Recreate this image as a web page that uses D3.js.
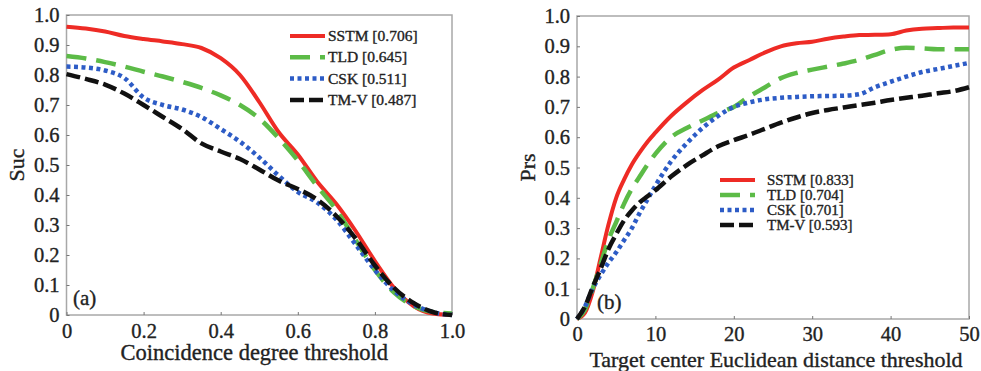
<!DOCTYPE html>
<html>
<head>
<meta charset="utf-8">
<script src="https://cdn.jsdelivr.net/npm/d3@7/dist/d3.min.js"></script>
<style>
  body { margin: 0; background: #fff; }
  svg text { font-family: "Liberation Serif", "DejaVu Serif", serif; fill: #222; stroke: #222; stroke-width: 0.35px; }
</style>
</head>
<body>
<svg id="chart" width="981" height="371"></svg>
<script>
// ---- panel (a): success plot ----
var sucX = [0, 0.05, 0.1, 0.15, 0.2, 0.25, 0.3, 0.35, 0.4, 0.45, 0.5, 0.55, 0.6, 0.65, 0.7, 0.75, 0.8, 0.85, 0.9, 0.95, 1.0];
var sucSSTM = [0.961, 0.955, 0.945, 0.93, 0.92, 0.912, 0.903, 0.89, 0.856, 0.80, 0.71, 0.61, 0.535, 0.445, 0.37, 0.28, 0.18, 0.09, 0.03, 0.005, 0.0];
var sucTLD  = [0.863, 0.855, 0.843, 0.828, 0.811, 0.795, 0.777, 0.757, 0.732, 0.70, 0.655, 0.59, 0.515, 0.43, 0.35, 0.25, 0.15, 0.075, 0.03, 0.01, 0.005];
var sucCSK  = [0.828, 0.825, 0.815, 0.79, 0.725, 0.70, 0.685, 0.66, 0.62, 0.578, 0.525, 0.465, 0.41, 0.375, 0.318, 0.235, 0.15, 0.08, 0.035, 0.01, 0.0];
var sucTMV  = [0.803, 0.787, 0.768, 0.738, 0.70, 0.66, 0.62, 0.572, 0.545, 0.52, 0.485, 0.448, 0.42, 0.385, 0.33, 0.255, 0.165, 0.09, 0.04, 0.01, 0.0];
var sucLegend = ['SSTM [0.706]', 'TLD [0.645]', 'CSK [0.511]', 'TM-V [0.487]'];
var sucXTicks = [0, 0.2, 0.4, 0.6, 0.8, 1.0];

// ---- panel (b): precision plot ----
var prsX = [0, 1, 2, 3, 4, 5, 6, 7, 8, 9, 10, 12, 14, 16, 18, 20, 22, 24, 26, 28, 30, 32, 34, 36, 38, 40, 42, 44, 46, 48, 50];
var prsSSTM = [0, 0.02, 0.09, 0.2, 0.31, 0.4, 0.46, 0.51, 0.55, 0.585, 0.615, 0.67, 0.715, 0.755, 0.79, 0.83, 0.855, 0.88, 0.9, 0.91, 0.915, 0.925, 0.932, 0.937, 0.938, 0.94, 0.952, 0.958, 0.96, 0.962, 0.962];
var prsTLD  = [0, 0.03, 0.1, 0.18, 0.26, 0.32, 0.38, 0.43, 0.47, 0.51, 0.545, 0.6, 0.63, 0.655, 0.68, 0.70, 0.735, 0.765, 0.795, 0.812, 0.823, 0.833, 0.843, 0.855, 0.872, 0.888, 0.895, 0.893, 0.89, 0.89, 0.89];
var prsCSK  = [0, 0.04, 0.1, 0.145, 0.185, 0.22, 0.26, 0.3, 0.35, 0.395, 0.44, 0.52, 0.58, 0.63, 0.67, 0.70, 0.715, 0.725, 0.73, 0.733, 0.735, 0.736, 0.737, 0.742, 0.765, 0.783, 0.80, 0.815, 0.825, 0.835, 0.845];
var prsTMV  = [0, 0.04, 0.105, 0.165, 0.23, 0.28, 0.325, 0.358, 0.385, 0.405, 0.425, 0.47, 0.508, 0.54, 0.57, 0.59, 0.608, 0.628, 0.648, 0.665, 0.68, 0.69, 0.698, 0.706, 0.714, 0.723, 0.73, 0.737, 0.745, 0.752, 0.765];
var prsLegend = ['SSTM [0.833]', 'TLD [0.704]', 'CSK [0.701]', 'TM-V [0.593]'];
var prsXTicks = [0, 10, 20, 30, 40, 50];

var yTicks = [0, 0.1, 0.2, 0.3, 0.4, 0.5, 0.6, 0.7, 0.8, 0.9, 1.0];

// line styles, in series order
var styles = [
  { color: '#ee2b25', width: 4, dash: null },
  { color: '#5cbb47', width: 4.5, dash: '20,10' },
  { color: '#2d5cc6', width: 4.5, dash: '4,3.5' },
  { color: '#111111', width: 4.5, dash: '14,5' }
];

var svg = d3.select('#chart');

function fmtY(d) { return d === 0 ? '0' : d.toFixed(1); }

function drawPanel(opt) {
  var x = d3.scaleLinear().domain(opt.xDomain).range([opt.left, opt.right]);
  var y = d3.scaleLinear().domain([0, 1]).range([opt.bottom, opt.top]);
  var g = svg.append('g');

  // frame
  g.append('rect')
    .attr('x', opt.left).attr('y', opt.top)
    .attr('width', opt.right - opt.left).attr('height', opt.bottom - opt.top)
    .attr('fill', 'none').attr('stroke', '#a8a8a8').attr('stroke-width', 1.5);

  // y axis
  var yAxis = g.append('g')
    .attr('transform', 'translate(' + opt.left + ',0)')
    .call(d3.axisLeft(y).tickValues(yTicks).tickFormat(fmtY).tickSizeInner(-3).tickSizeOuter(0).tickPadding(7));
  yAxis.select('.domain').remove();
  yAxis.selectAll('line').attr('stroke', '#777');
  yAxis.selectAll('text').attr('font-size', 20.5).attr('font-family', null).attr('fill', '#222');

  // x axis
  var xAxis = g.append('g')
    .attr('transform', 'translate(0,' + opt.bottom + ')')
    .call(d3.axisBottom(x).tickValues(opt.xTicks).tickFormat(opt.xFmt).tickSizeInner(-3).tickSizeOuter(0).tickPadding(opt.xPad));
  xAxis.select('.domain').remove();
  xAxis.selectAll('line').attr('stroke', '#777');
  xAxis.selectAll('text').attr('font-size', 20.5).attr('font-family', null).attr('fill', '#222');

  // curves
  var line = d3.line()
    .x(function (d) { return x(d[0]); })
    .y(function (d) { return y(d[1]); })
    .curve(d3.curveMonotoneX);

  opt.series.forEach(function (vals, i) {
    var pts = opt.xs.map(function (v, j) { return [v, vals[j]]; });
    var s = styles[i];
    g.append('path')
      .datum(pts)
      .attr('d', line)
      .attr('fill', 'none')
      .attr('stroke', s.color)
      .attr('stroke-width', s.width)
      .attr('stroke-dasharray', s.dash);
  });

  // legend
  opt.legend.forEach(function (label, i) {
    var s = styles[i];
    var ly = opt.legendY + i * opt.legendStep;
    g.append('line')
      .attr('x1', opt.legendX).attr('x2', opt.legendX + opt.legendLen)
      .attr('y1', ly).attr('y2', ly)
      .attr('stroke', s.color).attr('stroke-width', s.width)
      .attr('stroke-dasharray', s.dash);
    g.append('text')
      .attr('x', opt.legendTextX).attr('y', ly + 5)
      .attr('font-size', opt.legendFont)
      .text(label);
  });

  // panel tag
  g.append('text')
    .attr('x', opt.tagX).attr('y', opt.tagY)
    .attr('font-size', 21)
    .text(opt.tag);

  // axis titles
  g.append('text')
    .attr('x', (opt.left + opt.right) / 2 + opt.xTitleShift).attr('y', opt.xTitleY)
    .attr('text-anchor', 'middle')
    .attr('font-size', opt.xTitleFont)
    .text(opt.xTitle);

  g.append('text')
    .attr('transform', 'translate(' + opt.yTitleX + ',' + ((opt.top + opt.bottom) / 2) + ') rotate(-90)')
    .attr('text-anchor', 'middle')
    .attr('font-size', 22)
    .text(opt.yTitle);
}

drawPanel({
  left: 66.5, right: 452, top: 15, bottom: 315,
  xDomain: [0, 1], xTicks: sucXTicks, xFmt: function (d) { return d === 0 ? '0' : d.toFixed(1); }, xPad: 8,
  xs: sucX, series: [sucSSTM, sucTLD, sucCSK, sucTMV],
  legend: sucLegend, legendX: 290, legendLen: 35, legendTextX: 328, legendY: 36, legendStep: 21.3, legendFont: 15.5,
  tag: '(a)', tagX: 73, tagY: 305,
  xTitle: 'Coincidence degree threshold', xTitleY: 360, xTitleShift: -5, xTitleFont: 22.5,
  yTitle: 'Suc', yTitleX: 24
});

drawPanel({
  left: 577, right: 969, top: 16, bottom: 319,
  xDomain: [0, 50], xTicks: prsXTicks, xFmt: d3.format('d'), xPad: 7,
  xs: prsX, series: [prsSSTM, prsTLD, prsCSK, prsTMV],
  legend: prsLegend, legendX: 720, legendLen: 35, legendTextX: 767, legendY: 180, legendStep: 15, legendFont: 15,
  tag: '(b)', tagX: 597, tagY: 309,
  xTitle: 'Target center Euclidean distance threshold', xTitleY: 367, xTitleShift: 3, xTitleFont: 22,
  yTitle: 'Prs', yTitleX: 535
});
</script>
</body>
</html>
